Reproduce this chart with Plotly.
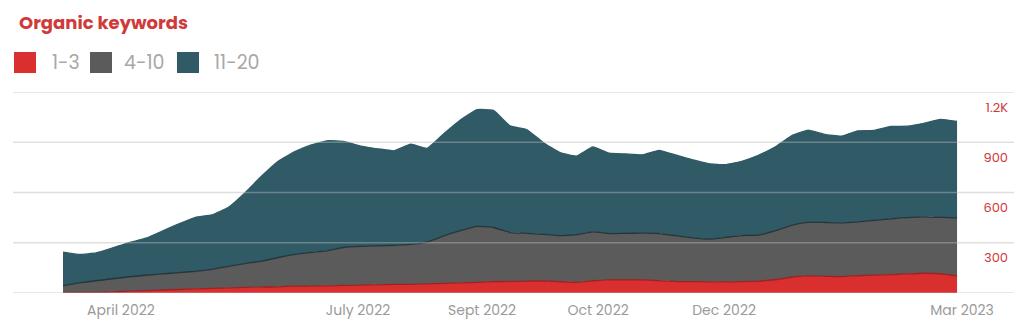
import plotly.graph_objects as go

# ---- data (weekly points) ----
series_names = ["1-3", "4-10", "11-20"]
point_index = list(range(55))

kw_1_3 = [2, 4, 4, 7, 11, 14, 18, 21, 25, 28, 31, 34, 35, 37, 41, 41, 43, 45, 47, 49,
          51, 52, 54, 58, 61, 64, 68, 69, 71, 72, 68, 64, 73, 78, 78, 78, 74, 69, 68, 67,
          66, 68, 71, 79, 94, 102, 100, 98, 103, 107, 110, 114, 118, 115, 102]
kw_4_10 = [42, 57, 69, 78, 86, 92, 96, 101, 104, 113, 128, 142, 155, 175, 189, 202, 210, 228, 231, 232,
           233, 238, 250, 283, 311, 334, 323, 292, 285, 278, 275, 284, 292, 277, 278, 279, 281, 273, 261, 255,
           266, 275, 275, 292, 310, 320, 321, 321, 322, 326, 333, 336, 337, 337, 346]
kw_11_20 = [200, 169, 166, 184, 204, 221, 256, 291, 323, 326, 353, 423, 508, 574, 614, 641, 656, 631, 599, 580,
            565, 598, 560, 610, 661, 696, 699, 637, 620, 549, 496, 469, 507, 480, 474, 468, 497, 482, 467, 450,
            434, 443, 476, 500, 535, 550, 526, 517, 543, 538, 551, 546, 558, 585, 576]

x_tick_positions = [3.5, 17.82, 25.31, 32.32, 39.93, 54.3]
x_tick_labels = ["April 2022", "July 2022", "Sept 2022", "Oct 2022", "Dec 2022", "Mar 2023"]
y_tick_values = [0, 300, 600, 900, 1200]
y_tick_labels = ["", "300", "600", "900", "1.2K"]

# ---- style ----
fill_colors = ["#d92f2f", "#5b5b5b", "#2f5a66"]
edge_colors = ["#9e2222", "#263538", "#2f5a66"]
FONT = "Poppins, 'Open Sans', sans-serif"

fig = go.Figure()
for name, vals, fc, ec in zip(series_names, [kw_1_3, kw_4_10, kw_11_20], fill_colors, edge_colors):
    fig.add_trace(go.Scatter(
        x=point_index, y=vals, name=name, mode="lines", stackgroup="kw",
        fillcolor=fc, line=dict(color=ec, width=1.3, shape="spline", smoothing=0.35),
        showlegend=False, hoverinfo="skip",
    ))

shapes = []
# gridlines drawn above the areas (semi-transparent)
for v in y_tick_values:
    shapes.append(dict(type="line", xref="paper", yref="y", x0=0, x1=1, y0=v, y1=v,
                       line=dict(color="rgba(185,185,185,0.45)", width=1.5), layer="above"))

plot_l, plot_r, plot_t, plot_b = 13, 1014, 92, 293
W = plot_r - plot_l
H = plot_b - plot_t

annotations = [dict(text="<b>Organic keywords</b>", xref="paper", yref="paper",
                    x=(17 - plot_l) / W, y=(plot_b - 22) / H, xanchor="left", yanchor="middle",
                    showarrow=False, font=dict(family=FONT, size=18, color="#d03a3a"))]

# manual legend: big squares + labels
sq_x = [14, 90, 177]
tx_x = [50, 122, 212]
for name, fc, sx, tx in zip(series_names, fill_colors, sq_x, tx_x):
    shapes.append(dict(type="rect", xref="paper", yref="paper",
                       x0=(sx - plot_l) / W, x1=(sx + 22 - plot_l) / W,
                       y0=(plot_b - 73) / H, y1=(plot_b - 52) / H,
                       fillcolor=fc, line=dict(width=0), layer="above"))
    annotations.append(dict(text=name, xref="paper", yref="paper",
                            x=(tx - plot_l) / W, y=(plot_b - 62) / H,
                            xanchor="left", yanchor="middle", showarrow=False,
                            font=dict(family=FONT, size=19, color="#a8a8a8")))

fig.update_layout(
    width=1024, height=332,
    margin=dict(l=plot_l, r=1024 - plot_r, t=plot_t, b=332 - plot_b),
    paper_bgcolor="white", plot_bgcolor="white",
    shapes=shapes, annotations=annotations,
    showlegend=False,
    xaxis=dict(range=[-3.02, 57.44], tickmode="array", tickvals=x_tick_positions,
               ticktext=x_tick_labels, showgrid=False, zeroline=False, showline=False,
               ticks="outside", ticklen=4, tickcolor="white",
               tickfont=dict(family=FONT, size=14, color="#9a9a9a"), fixedrange=True),
    yaxis=dict(range=[0, 1200], side="right", tickmode="array", tickvals=y_tick_values,
               ticktext=y_tick_labels, showgrid=False, zeroline=False, showline=False,
               ticklabelposition="inside", ticklabelshift=15, ticklabelstandoff=3,
               tickfont=dict(family=FONT, size=13, color="#d03a3a"), fixedrange=True),
)

fig.write_html("out.html", config={"displayModeBar": False})
